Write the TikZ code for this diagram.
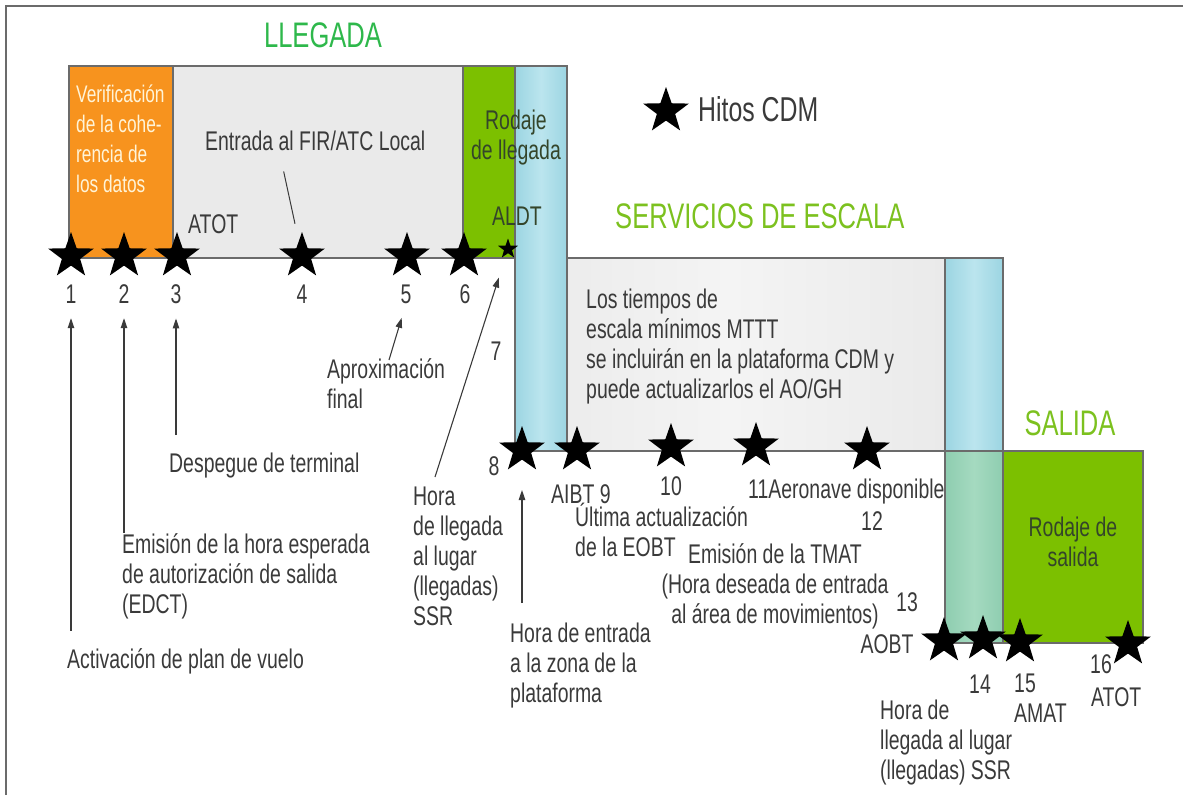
\documentclass[tikz,border=0pt]{standalone}
\usepackage{fontspec}
\setmainfont{Liberation Sans}[FakeStretch=0.72]
\usepackage{xcolor}
\usepackage{tikz}
\usetikzlibrary{shapes.geometric,arrows.meta}
\definecolor{ink}{HTML}{3A3A3A}
\definecolor{rim}{HTML}{6B6B6B}
\definecolor{orangebg}{HTML}{F7931E}
\definecolor{greybg}{HTML}{EAEAEA}
\definecolor{greylight}{HTML}{F4F4F4}
\definecolor{greenbg}{HTML}{7CC000}
\definecolor{blueedge}{HTML}{9CD5E2}
\definecolor{bluemid}{HTML}{BBE5EE}
\definecolor{tealedge}{HTML}{8ECDB0}
\definecolor{tealmid}{HTML}{A5DAC0}
\definecolor{llegcol}{HTML}{2EB84B}
\definecolor{limecol}{HTML}{7CC11F}
\definecolor{verifcol}{HTML}{FFF4D8}
\definecolor{rodtext}{HTML}{34452A}

\begin{document}
\begin{tikzpicture}[x=1pt, y=-1pt,
  phase/.style={draw=rim, line width=1.1pt},
  lane/.style={phase, left color=blueedge, right color=blueedge, middle color=bluemid},
  hito/.style={star, star points=5, star point ratio=2.5, fill=black, inner sep=0pt, minimum size=48pt},
  txt/.style={font=\fontsize{27}{30}\selectfont, text=ink, inner sep=0pt},
  ttl/.style={font=\fontsize{35.5}{40}\selectfont, inner sep=0pt},
  arr/.style={-{Triangle[length=10pt, width=6.5pt]}, line width=1.1pt, color=ink},
  lead/.style={line width=1pt, color=ink}
]
\useasboundingbox (0,0) rectangle (1183,795);
\draw[rim, line width=2pt] (6,795) -- (6,6) -- (1183,6);

\draw[phase, fill=orangebg] (69,66) rectangle (173,258);
\draw[phase, fill=greybg] (173,66) rectangle (463,258);
\draw[phase, fill=greenbg] (463,66) rectangle (515,258);
\draw[phase, left color=greybg, right color=greybg, middle color=greylight] (515,258) rectangle (945,451);
\draw[phase, fill=greenbg] (1003,451) rectangle (1143,643);
\draw[lane] (515,66) rectangle (567,451);
\draw[lane] (945,258) rectangle (1003,643);
\draw[phase, left color=tealedge, right color=tealedge, middle color=tealmid] (945,451) rectangle (1003,643);

\node[ttl, text=llegcol, anchor=base] (llegada) at (323,47) {LLEGADA};
\node[ttl, text=limecol, anchor=base west] (escala) at (615,228) {SERVICIOS DE ESCALA};
\node[ttl, text=limecol, anchor=base] (salida) at (1070,435) {SALIDA};

\node[hito] (leyenda) at (666,111) {};
\node[txt, font=\fontsize{34.5}{40}\selectfont, anchor=base west] (hitos) at (698,121) {Hitos CDM};

\node[txt, font=\fontsize{24}{30}\selectfont, text=verifcol, align=left, anchor=north west] (verif) at (76,84.5) {Verificación\\de la cohe-\\rencia de\\los datos};
\node[txt, text=rodtext, align=center, anchor=north] (rodll) at (516,110) {Rodaje\\de llegada};
\node[txt, text=rodtext, anchor=base] (aldt) at (517,225) {ALDT};
\node[txt, anchor=base west] (entrada) at (205,150) {Entrada al FIR/ATC Local};
\node[txt, anchor=base west] (atot1) at (188,233) {ATOT};

\node[hito] (s1) at (71,256) {};
\node[hito] (s2) at (124,256) {};
\node[hito] (s3) at (177,256) {};
\node[hito] (s4) at (302,256) {};
\node[hito] (s5) at (407,256) {};
\node[hito] (s6) at (464,256) {};
\node[hito, minimum size=21pt] (s7) at (508,249) {};

\node[txt, anchor=base] (n1) at (71,303) {1};
\node[txt, anchor=base] (n2) at (124,303) {2};
\node[txt, anchor=base] (n3) at (176,303) {3};
\node[txt, anchor=base] (n4) at (302,303) {4};
\node[txt, anchor=base] (n5) at (406,303) {5};
\node[txt, anchor=base] (n6) at (465,303) {6};
\node[txt, anchor=base] (n7) at (496,360) {7};
\node[txt, anchor=base] (n8) at (494,475) {8};

\node[txt, align=left, anchor=north west] (mttt) at (586,289) {Los tiempos de\\escala mínimos MTTT\\se incluirán en la plataforma CDM y\\puede actualizarlos el AO/GH};

\node[hito] (s8) at (522,450) {};
\node[hito] (s9) at (577,450) {};
\node[hito] (s10) at (671,447) {};
\node[hito] (s11) at (756,446) {};
\node[hito] (s12) at (867,450) {};

\node[txt, anchor=base west] (aibt) at (551,503) {AIBT 9};
\node[txt, anchor=base] (n10) at (671,495) {10};
\node[txt, anchor=base west] (n11) at (748,498) {11Aeronave disponible};
\node[txt, anchor=base] (n12) at (872,530) {12};
\node[txt, align=left, anchor=north west] (eobt) at (575,503) {Última actualización\\de la EOBT};
\node[txt, align=center, anchor=north] (tmat) at (775,543.5) {Emisión de la TMAT\\(Hora deseada de entrada\\al área de movimientos)};
\node[txt, anchor=base] (n13) at (907,611) {13};
\node[txt, anchor=base] (aobt) at (887,653) {AOBT};

\node[txt, text=rodtext, align=center, anchor=north] (rodsal) at (1073,517) {Rodaje de\\salida};
\node[hito] (s13) at (944,641) {};
\node[hito] (s14) at (983,639) {};
\node[hito] (s15) at (1020,642) {};
\node[hito] (s16) at (1128,644) {};
\node[txt, anchor=base] (n14) at (980,693) {14};
\node[txt, align=left, anchor=north west] (amat) at (1014,673.7) {15\\AMAT};
\node[txt, anchor=base] (n16) at (1101,673) {16};
\node[txt, anchor=base west] (atot2) at (1091,706) {ATOT};
\node[txt, align=left, anchor=north west] (ssr2) at (880,700) {Hora de\\llegada al lugar\\(llegadas) SSR};

\node[txt, anchor=base west] (plan) at (67,668) {Activación de plan de vuelo};
\node[txt, align=left, anchor=north west] (edct) at (122,533.7) {Emisión de la hora esperada\\de autorización de salida\\(EDCT)};
\node[txt, anchor=base west] (despegue) at (169,472) {Despegue de terminal};
\node[txt, align=left, anchor=north west] (aprox) at (327,358) {Aproximación\\final};
\node[txt, align=left, anchor=north west] (ssr1) at (413,487) {Hora\\de llegada\\al lugar\\(llegadas)\\SSR};
\node[txt, align=left, anchor=north west] (plataf) at (510,623) {Hora de entrada\\a la zona de la\\plataforma};

\draw[lead, shorten <=22pt, shorten >=33pt] ([xshift=74pt]entrada.base west) -- (s4.center);
\draw[arr, shorten <=17pt, shorten >=15pt] (n1.south |- plan.north) -- (n1.south);
\draw[arr, shorten <=1pt, shorten >=15pt] (n2.south |- edct.north) -- (n2.south);
\draw[arr, shorten <=17pt, shorten >=15pt] (n3.south |- despegue.north) -- (n3.south);
\draw[arr, shorten >=15pt] ([xshift=62pt, yshift=-2pt]aprox.north west) -- (n5.south);
\draw[arr, shorten >=30pt] ([xshift=22pt, yshift=10pt]ssr1.north west) -- (s7.center);
\draw[arr, shorten <=20pt, shorten >=40pt] ([xshift=12pt]plataf.north west) -- (s8.center);
\end{tikzpicture}
\end{document}
